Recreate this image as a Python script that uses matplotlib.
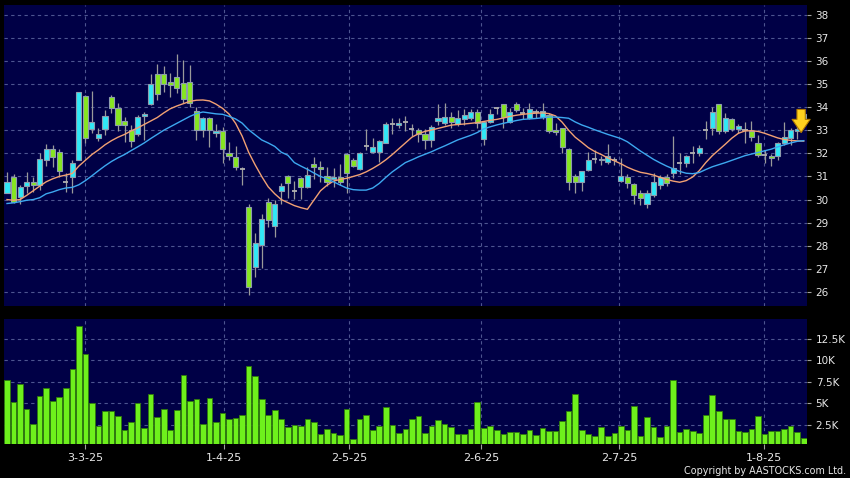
import matplotlib
matplotlib.use("Agg")
import matplotlib.pyplot as plt
import numpy as np

# ---------------- data ----------------
opens = [30.30, 30.96, 30.12, 30.58, 30.74, 30.61, 31.71, 32.21, 32.07, 30.77,
         30.96, 31.71, 34.50, 33.04, 32.65, 33.04, 34.42, 33.95, 33.38, 32.99,
         32.84, 33.60, 34.12, 35.42, 35.42, 35.07, 35.29, 35.06, 35.10, 33.85,
         33.01, 33.54, 32.89, 32.98, 32.03, 31.85, 31.31, 29.66, 27.09, 28.03,
         29.91, 28.87, 30.38, 31.02, 30.38, 30.92, 30.56, 31.52, 31.42, 31.03,
         30.89, 30.99, 31.97, 31.71, 31.32, 32.32, 32.07, 32.04, 32.46, 33.27,
         33.21, 33.34, 33.05, 32.99, 32.84, 32.58, 33.40, 33.30, 33.59, 33.27,
         33.47, 33.51, 33.80, 32.61, 33.37, 33.95, 34.12, 33.34, 34.12, 33.73,
         33.55, 33.80, 33.56, 33.66, 32.99, 33.08, 32.21, 31.03, 30.74, 31.28,
         31.77, 31.77, 31.64, 31.70, 30.80, 30.99, 30.66, 30.27, 29.83, 30.20,
         30.63, 30.99, 31.13, 31.60, 31.60, 32.00, 32.00, 33.01, 33.08, 34.12,
         32.97, 33.47, 33.04, 33.00, 32.97, 32.43, 31.95, 31.90, 31.90, 32.44,
         32.65, 32.95, 33.47]
closes = [30.78, 29.91, 30.56, 30.74, 30.61, 31.74, 32.17, 31.85, 31.23, 30.77,
          31.59, 34.64, 32.65, 33.34, 32.82, 33.63, 33.95, 33.22, 33.21, 32.53,
          33.59, 33.69, 34.99, 34.55, 34.99, 34.96, 34.81, 34.34, 34.16, 33.01,
          33.54, 33.01, 32.96, 32.21, 31.90, 31.42, 31.31, 26.22, 28.13, 29.18,
          29.11, 29.81, 30.58, 30.70, 30.38, 30.56, 31.06, 31.42, 31.31, 30.77,
          30.99, 30.77, 31.13, 31.45, 32.00, 32.32, 32.26, 32.53, 33.25, 33.27,
          33.30, 33.34, 33.05, 32.84, 32.58, 33.15, 33.54, 33.59, 33.37, 33.54,
          33.66, 33.80, 33.30, 33.37, 33.69, 33.95, 33.56, 33.80, 33.88, 33.73,
          33.91, 33.80, 33.83, 32.96, 32.92, 32.26, 30.74, 30.74, 31.23, 31.71,
          31.77, 31.71, 31.88, 31.70, 31.00, 30.70, 30.20, 30.08, 30.27, 30.77,
          30.99, 30.70, 31.35, 31.60, 31.90, 32.00, 32.22, 33.01, 33.77, 32.97,
          33.54, 33.04, 33.20, 33.00, 32.72, 31.93, 31.95, 31.78, 32.43, 32.72,
          33.01, 33.05, 33.70]
highs = [31.20, 31.10, 30.65, 31.20, 30.99, 32.00, 32.40, 32.36, 32.21, 31.13,
         31.71, 34.66, 34.52, 34.70, 33.10, 33.87, 34.52, 34.16, 33.59, 33.22,
         33.66, 33.80, 35.43, 35.87, 35.78, 35.46, 36.30, 36.04, 35.82, 34.02,
         33.58, 33.58, 33.25, 33.15, 32.50, 32.32, 31.42, 29.81, 28.54, 29.37,
         30.05, 29.98, 30.70, 31.06, 30.82, 30.99, 31.42, 31.83, 31.67, 31.39,
         31.35, 31.52, 32.00, 31.78, 32.07, 33.05, 32.65, 32.57, 33.37, 33.51,
         33.51, 33.61, 33.27, 33.08, 33.05, 33.23, 34.12, 34.20, 33.77, 33.87,
         33.90, 33.90, 33.93, 33.40, 33.90, 34.00, 34.15, 33.95, 34.24, 33.95,
         34.16, 33.90, 34.20, 33.73, 33.30, 33.10, 32.25, 31.10, 31.25, 32.07,
         32.14, 31.90, 32.39, 31.85, 31.78, 31.10, 30.70, 30.40, 30.40, 31.13,
         31.05, 31.10, 32.75, 32.00, 31.95, 32.30, 32.35, 33.40, 34.00, 34.15,
         33.75, 33.55, 33.25, 33.35, 33.40, 32.80, 32.15, 31.98, 32.50, 33.35,
         33.10, 33.20, 33.75]
lows = [30.27, 29.84, 29.80, 30.27, 30.34, 30.41, 31.45, 31.42, 30.99, 30.34,
        30.30, 31.70, 32.43, 32.86, 32.55, 32.79, 33.73, 32.98, 32.50, 32.29,
        32.73, 32.58, 34.10, 34.31, 34.67, 34.45, 34.60, 34.16, 34.02, 32.58,
        32.69, 32.29, 32.69, 31.59, 31.71, 31.28, 30.63, 25.87, 26.66, 27.02,
        28.82, 28.39, 29.81, 30.05, 30.02, 30.01, 30.50, 30.87, 30.77, 30.58,
        30.56, 30.63, 30.27, 31.40, 31.28, 32.14, 32.00, 31.64, 32.43, 32.84,
        33.08, 32.97, 32.75, 32.50, 32.17, 32.26, 33.23, 33.23, 33.08, 33.20,
        33.23, 33.45, 33.08, 32.36, 33.30, 33.70, 33.08, 33.30, 33.80, 33.50,
        33.50, 33.55, 33.50, 32.90, 32.80, 32.00, 30.41, 30.27, 30.36, 31.25,
        31.57, 31.50, 31.55, 31.50, 30.75, 30.48, 29.82, 29.75, 29.62, 30.10,
        30.45, 30.60, 30.95, 31.12, 31.40, 31.60, 31.90, 32.60, 32.80, 32.85,
        32.90, 32.95, 32.90, 32.45, 32.55, 31.85, 31.60, 31.45, 31.70, 32.35,
        32.35, 32.60, 33.40]
volume_k = [7.73, 5.16, 7.19, 4.26, 2.54, 5.82, 6.72, 5.31, 5.70, 6.76,
            8.95, 14.06, 10.74, 5.00, 2.30, 4.14, 4.06, 3.48, 1.84, 2.81,
            5.04, 2.07, 6.02, 3.36, 4.34, 1.88, 4.22, 8.32, 5.27, 5.51,
            2.58, 5.59, 2.85, 3.87, 3.09, 3.32, 3.63, 9.30, 8.20, 5.47,
            3.59, 4.18, 3.20, 2.23, 2.46, 2.34, 3.16, 2.85, 1.41, 1.95,
            1.52, 1.25, 4.26, 0.86, 3.09, 3.59, 1.91, 2.27, 4.53, 2.50,
            1.56, 1.99, 3.16, 3.52, 1.52, 2.34, 3.05, 2.54, 2.23, 1.45,
            1.41, 1.95, 5.12, 2.07, 2.34, 1.88, 1.37, 1.60, 1.60, 1.37,
            1.88, 1.25, 2.15, 1.76, 1.76, 2.93, 4.10, 6.05, 1.88, 1.41,
            1.21, 2.23, 1.21, 1.52, 2.34, 1.84, 4.65, 1.17, 3.36, 2.19,
            1.05, 2.34, 7.66, 1.68, 1.99, 1.76, 1.48, 3.67, 5.90, 4.10,
            3.20, 3.16, 1.72, 1.64, 1.95, 3.55, 1.45, 1.76, 1.80, 1.95,
            2.38, 1.64, 0.90]
ma_short = [30.00, 29.97, 30.00, 30.18, 30.38, 30.58, 30.77, 30.90, 31.00, 31.06,
            31.13, 31.45, 31.70, 31.95, 32.15, 32.37, 32.55, 32.70, 32.82, 32.97,
            33.10, 33.25, 33.40, 33.55, 33.75, 33.93, 34.05, 34.15, 34.25, 34.30,
            34.31, 34.27, 34.13, 33.95, 33.70, 33.30, 32.75, 32.05, 31.50, 31.00,
            30.55, 30.25, 30.00, 29.87, 29.74, 29.65, 29.58, 29.98, 30.38, 30.62,
            30.80, 30.87, 30.92, 31.00, 31.08, 31.20, 31.35, 31.52, 31.72, 31.95,
            32.20, 32.45, 32.70, 32.85, 32.95, 33.01, 33.08, 33.15, 33.22, 33.25,
            33.27, 33.30, 33.33, 33.38, 33.43, 33.47, 33.53, 33.60, 33.65, 33.69,
            33.72, 33.74, 33.75, 33.72, 33.62, 33.35, 33.00, 32.70, 32.48, 32.25,
            32.08, 31.95, 31.80, 31.68, 31.55, 31.40, 31.28, 31.18, 31.13, 31.06,
            30.96, 30.87, 30.80, 30.75, 30.82, 30.98, 31.25, 31.60, 31.90, 32.15,
            32.40, 32.66, 32.87, 32.97, 32.98, 32.95, 32.87, 32.77, 32.67, 32.60,
            32.56, 32.54, 32.53]
ma_long = [29.83, 29.86, 29.91, 29.97, 30.00, 30.08, 30.25, 30.33, 30.43, 30.50,
           30.53, 30.64, 30.82, 31.03, 31.25, 31.46, 31.65, 31.81, 31.95, 32.12,
           32.28, 32.45, 32.64, 32.82, 33.00, 33.15, 33.30, 33.45, 33.60, 33.72,
           33.79, 33.75, 33.71, 33.69, 33.60, 33.49, 33.31, 33.02, 32.80, 32.58,
           32.45, 32.30, 32.05, 31.92, 31.60, 31.45, 31.31, 31.15, 31.00, 30.90,
           30.77, 30.63, 30.50, 30.43, 30.41, 30.41, 30.50, 30.70, 30.96, 31.20,
           31.40, 31.60, 31.72, 31.85, 31.96, 32.07, 32.20, 32.32, 32.45, 32.58,
           32.68, 32.78, 32.90, 33.06, 33.15, 33.23, 33.30, 33.36, 33.42, 33.47,
           33.49, 33.51, 33.54, 33.57, 33.57, 33.55, 33.52, 33.36, 33.23, 33.13,
           33.02, 32.92, 32.82, 32.73, 32.64, 32.50, 32.30, 32.10, 31.92, 31.74,
           31.59, 31.45, 31.33, 31.22, 31.14, 31.12, 31.17, 31.30, 31.42, 31.51,
           31.60, 31.70, 31.80, 31.90, 31.97, 32.04, 32.11, 32.18, 32.28, 32.37,
           32.45, 32.52, 32.55]
date_labels = ["3-3-25", "1-4-25", "2-5-25", "2-6-25", "2-7-25", "1-8-25"]
date_ticks = [11.99, 33.28, 52.42, 72.59, 93.72, 115.93]
price_ticks = [26, 27, 28, 29, 30, 31, 32, 33, 34, 35, 36, 37, 38]
vol_ticks = [2.5, 5, 7.5, 10, 12.5]
vol_tick_labels = ["2.5K", "5K", "7.5K", "10K", "12.5K"]

# ---------------- style ----------------
BG_FIG = "#000000"
BG_AX = "#000046"
UP = "#30E8F6"
DOWN = "#86E620"
EDGE = "#8e9cae"
WICK = "#9a9a9a"
VOL = "#6EF01C"
VOL_EDGE = "#2f7a0c"
GRID = "#4d5590"
TXT = "#e8e8e8"

o = np.array(opens); c = np.array(closes)
h = np.array(highs); l = np.array(lows)
x = np.arange(len(o))

fig = plt.figure(figsize=(8.5, 4.78), dpi=100, facecolor=BG_FIG)
ax = fig.add_axes([4/850, 1-306/478, 803/850, 301/478], facecolor=BG_AX)
axv = fig.add_axes([4/850, 1-443.5/478, 803/850, 124.5/478], facecolor=BG_AX, sharex=ax)

for a in (ax, axv):
    for s in a.spines.values():
        s.set_visible(False)
    a.yaxis.tick_right()
    a.tick_params(axis="y", colors="#a0a0a0", labelcolor=TXT, length=3.2,
                  width=0.8, pad=3, labelsize=7.5)
    a.set_axisbelow(True)
    a.grid(True, color=GRID, linestyle=(0, (3, 3)), linewidth=0.8)

# candles
ax.vlines(x, l, h, color=WICK, linewidth=0.9, zorder=2)
bw = 0.78
up = c > o + 0.015
down = c < o - 0.015
doji = ~(up | down)
ax.bar(x[up], (c - o)[up], bottom=o[up], width=bw, color=UP,
       edgecolor=EDGE, linewidth=0.8, zorder=3)
ax.bar(x[down], (o - c)[down], bottom=c[down], width=bw, color=DOWN,
       edgecolor=EDGE, linewidth=0.8, zorder=3)
ax.hlines(c[doji], x[doji] - bw / 2, x[doji] + bw / 2, color="#b0b0b0",
          linewidth=1.3, zorder=3)

# moving averages
ax.plot(x, ma_short, color="#F2A173", linewidth=1.0, zorder=4)
ax.plot(x, ma_long, color="#3DA8F0", linewidth=1.0, zorder=4)

# arrow marker on the latest bar
arr_x = x[-2] + 0.6
ax.annotate("", xy=(arr_x, h[-2] - 0.3), xytext=(arr_x, h[-2] + 0.7),
            arrowprops=dict(arrowstyle="simple,head_length=0.95,head_width=1.3,tail_width=0.6",
                            mutation_scale=10, fc="#FFD21E", ec="#B27A00", lw=0.8,
                            shrinkA=0, shrinkB=0), zorder=6)

ax.set_ylim(25.395, 38.42)
ax.set_yticks(price_ticks)
ax.set_yticklabels([str(t) for t in price_ticks])
ax.set_xlim(-0.46, 122.5)
ax.set_xticks(date_ticks)
ax.tick_params(axis="x", which="both", length=0, labelbottom=False)

# volume
axv.bar(x, volume_k, width=0.86, color=VOL, edgecolor=VOL_EDGE, linewidth=0.6, zorder=3)
axv.set_ylim(0.28, 14.85)
axv.set_yticks(vol_ticks)
axv.set_yticklabels(vol_tick_labels)
axv.set_xticks(date_ticks)
axv.set_xticklabels(date_labels)
axv.tick_params(axis="x", colors="#a0a0a0", labelcolor=TXT, length=3.5, width=0.8,
                pad=3, labelsize=8)

fig.text(846/850, 1-471.5/478, "Copyright by AASTOCKS.com Ltd.", color=TXT,
         fontsize=6.9, ha="right", va="center")

fig.savefig("out.png", dpi=100, facecolor=BG_FIG)
